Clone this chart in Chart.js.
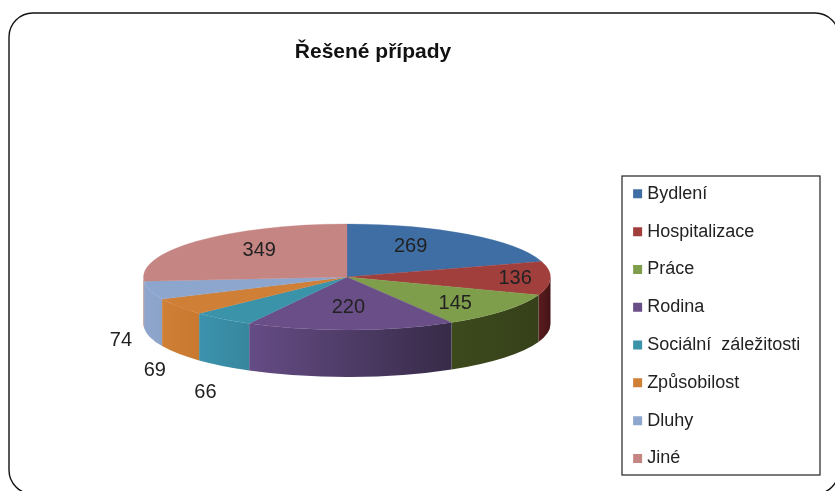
<!DOCTYPE html>
<html lang="cs">
<head>
<meta charset="utf-8">
<title>Řešené případy</title>
<style>
    html, body { margin: 0; padding: 0; background: #fff; }
    canvas { display: block; }
</style>
<script src="https://cdn.jsdelivr.net/npm/chart.js@4"></script>
</head>
<body>
<canvas id="pieChart" width="835" height="491"></canvas>
<script>
'use strict';

const categories = ['Bydlení', 'Hospitalizace', 'Práce', 'Rodina', 'Sociální  záležitosti', 'Způsobilost', 'Dluhy', 'Jiné'];
const cases = [269, 136, 145, 220, 66, 69, 74, 349];

const topColors = ['#3f6ea5', '#a13f3d', '#7f9e4b', '#6a4e88', '#3b93aa', '#d07f37', '#8ca6cd', '#c58583'];
// wall shading, left to right
const wallLeft = ['#2a4a70', '#5a1c1e', '#3c4a1c', '#654c85', '#3c93ad', '#d07f37', '#8da6ce', '#8a5c5a'];
const wallRight = ['#2a4a70', '#451416', '#36401a', '#372b48', '#37869e', '#c8782f', '#8da3c8', '#8a5c5a'];
// label nudges from the slice anchor
const labelShift = [[-9, -5], [46, 1], [14, 6], [-1, -1], [-67, 90], [-91, 76], [-108, 55], [2, -5]];

const PIE_CY = 277;
const PIE_RY = 53;
const PIE_DEPTH = 47;

Chart.defaults.font.family = '"Liberation Sans", Arial, sans-serif';

// ── Squashes the pie, adds the wall and the labels ─────
const pie3d = {
    id: 'pie3d',
    beforeDraw(chart) {
        const ctx = chart.ctx;
        ctx.save();
        ctx.fillStyle = '#fff';
        ctx.fillRect(0, 0, chart.width, chart.height);
        ctx.strokeStyle = '#111';
        ctx.lineWidth = 1.4;
        ctx.beginPath();
        ctx.roundRect(9, 13, 830, 481, 24);
        ctx.stroke();
        ctx.lineWidth = 1.2;
        ctx.strokeStyle = '#222';
        ctx.strokeRect(622, 176, 198, 299);
        ctx.restore();
    },
    beforeDatasetsDraw(chart) {
        const ctx = chart.ctx;
        const arcs = chart.getDatasetMeta(0).data;
        arcs.forEach((arc, i) => {
            const from = Math.max(arc.startAngle, 0);
            const to = Math.min(arc.endAngle, Math.PI);
            if (to <= from) return;
            const r = arc.outerRadius;
            const xa = arc.x + r * Math.cos(to);
            const xb = arc.x + r * Math.cos(from);
            const grad = ctx.createLinearGradient(xa, 0, xb, 0);
            grad.addColorStop(0, wallLeft[i]);
            grad.addColorStop(1, wallRight[i]);
            ctx.beginPath();
            ctx.ellipse(arc.x, PIE_CY, r, PIE_RY, 0, from, to);
            ctx.ellipse(arc.x, PIE_CY + PIE_DEPTH, r, PIE_RY, 0, to, from, true);
            ctx.closePath();
            ctx.fillStyle = grad;
            ctx.fill();
        });
        const first = arcs[0];
        ctx.save();
        ctx.translate(0, PIE_CY);
        ctx.scale(1, PIE_RY / first.outerRadius);
        ctx.translate(0, -first.y);
    },
    afterDatasetsDraw(chart) {
        const ctx = chart.ctx;
        ctx.restore();
        ctx.save();
        ctx.font = '20px "Liberation Sans", Arial, sans-serif';
        ctx.fillStyle = '#222';
        ctx.textAlign = 'center';
        ctx.textBaseline = 'middle';
        chart.getDatasetMeta(0).data.forEach((arc, i) => {
            const mid = (arc.startAngle + arc.endAngle) / 2;
            const x = arc.x + 0.6 * arc.outerRadius * Math.cos(mid);
            const y = PIE_CY + 0.6 * PIE_RY * Math.sin(mid);
            ctx.fillText(String(cases[i]), x + labelShift[i][0], y + labelShift[i][1]);
        });
        ctx.restore();
    },
    afterLayout(chart) {
        // title sits right of the pie centre, not over the whole canvas
        chart.titleBlock.left = 73;
        chart.titleBlock.right = 673;
    }
};

new Chart(document.getElementById('pieChart'), {
    type: 'pie',
    plugins: [pie3d],
    data: {
        labels: categories,
        datasets: [{
            data: cases,
            backgroundColor: topColors,
            borderColor: topColors,
            borderWidth: 0.5,
            radius: 203.5,
            clip: false
        }]
    },
    options: {
        responsive: false,
        animation: false,
        layout: { padding: { left: 76.7, right: 24.8, top: 0, bottom: 3 } },
        plugins: {
            title: {
                display: true,
                text: 'Řešené případy',
                color: '#111',
                font: { size: 21, weight: 'bold' },
                padding: { top: 40, bottom: 99.1 }
            },
            legend: {
                position: 'right',
                fullSize: false,
                labels: {
                    color: '#222',
                    font: { size: 18 },
                    padding: 19.8,
                    boxWidth: 1,
                    boxHeight: 1,
                    generateLabels: (chart) => {
                        const base = Chart.controllers.pie.overrides.plugins.legend.labels.generateLabels(chart);
                        return base.map((item, i) => ({ ...item, strokeStyle: topColors[i], lineWidth: 8 }));
                    }
                }
            },
            tooltip: { enabled: false }
        }
    }
});
</script>
</body>
</html>
